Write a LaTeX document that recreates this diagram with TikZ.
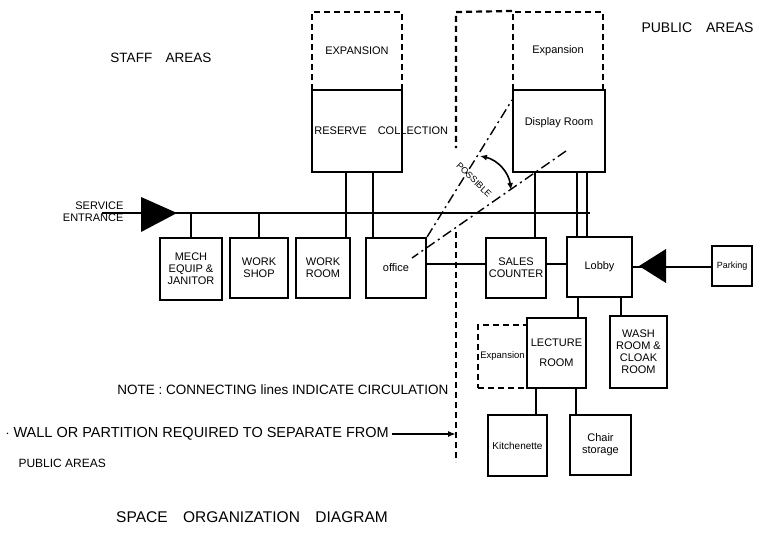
\documentclass[tikz,border=0pt]{standalone}
\usepackage{fontspec}
\setmainfont{Liberation Sans}
\usetikzlibrary{arrows.meta}

\begin{document}
\begin{tikzpicture}[x=1pt, y=-1pt,
    room/.style={draw, line width=2.2pt, rectangle, align=center, inner sep=1pt,
        font=\fontsize{11}{12}\selectfont},
    expbox/.style={draw, line width=2pt, dash pattern=on 6pt off 4pt, rectangle,
        inner sep=1pt, font=\fontsize{11}{12}\selectfont},
    link/.style={line width=1.6pt},
    wall/.style={line width=2.2pt, dash pattern=on 6pt off 4pt},
    sight/.style={line width=1.4pt, dash pattern=on 10pt off 4pt on 2pt off 4pt},
    lab/.style={font=\fontsize{13.5}{15}\selectfont}]
    \useasboundingbox (0,0) rectangle (779,541);

    % Zone di espansione (tratteggiate)
    \node[expbox, minimum width=90pt, minimum height=78pt] (expL) at (357,51) {EXPANSION};
    \node[expbox, minimum width=90pt, minimum height=78pt] (expR) at (558,51) {Expansion};
    \node[expbox, minimum width=49pt, minimum height=63pt,
        font=\fontsize{9.5}{10}\selectfont] (expC) at (502.5,356.5) {Expansion};

    % Locali
    \node[room, minimum width=90pt, minimum height=82pt,
        label={[font=\fontsize{11}{12}\selectfont, anchor=west]west:RESERVE\quad COLLECTION}] (reserve) at (357,131) {};
    \node[room, minimum width=92pt, minimum height=82pt] (display) at (559,131) {Display Room\\[6pt]};
    \node[room, minimum width=62pt, minimum height=62pt] (mech) at (191,269) {MECH\\EQUIP \&\\JANITOR};
    \node[room, minimum width=58pt, minimum height=60pt] (shop) at (259,268) {WORK\\SHOP};
    \node[room, minimum width=54pt, minimum height=60pt] (wroom) at (323,268) {WORK\\ROOM};
    \node[room, minimum width=60pt, minimum height=60pt] (office) at (396,268) {office};
    \node[room, minimum width=60pt, minimum height=60pt] (sales) at (516,268) {SALES\\COUNTER};
    \node[room, minimum width=65pt, minimum height=60pt] (lobby) at (599.5,267) {Lobby};
    \node[room, minimum width=40pt, minimum height=40pt,
        font=\fontsize{9}{10}\selectfont] (parking) at (732,266) {Parking};
    \node[room, minimum width=59pt, minimum height=70pt] (lecture) at (556.5,353) {LECTURE\\[8pt]ROOM};
    \node[room, minimum width=57pt, minimum height=72pt] (wash) at (638.5,352) {WASH\\ROOM \&\\CLOAK\\ROOM};
    \node[room, minimum width=59pt, minimum height=61pt,
        font=\fontsize{10}{11}\selectfont] (kitchen) at (517.5,445.5) {Kitchenette};
    \node[room, minimum width=61pt, minimum height=60pt] (chair) at (600.5,445) {Chair\\storage};

    % Corridoio di servizio
    \coordinate (se) at (102,213);
    \coordinate (me) at (590,213);
    \draw[link] (se) -- (me);
    \fill (141,197) -- (177,213) -- (141,232) -- cycle;
    \foreach \r in {mech, shop} {
        \draw[link] (\r.north) -- (\r.north |- me);
    }
    \foreach \dx/\r in {-11/wroom, 16/office} {
        \draw[link] ([xshift=\dx pt]reserve.south) -- ([xshift=\dx pt]reserve.south |- \r.north);
    }
    \foreach \dx/\r in {-24/sales, 18/lobby, 28/lobby} {
        \draw[link] ([xshift=\dx pt]display.south) -- ([xshift=\dx pt]display.south |- \r.north);
    }

    % Collegamenti pubblici
    \draw[link] ([yshift=4pt]office.east) -- ([yshift=4pt]office.east -| sales.west);
    \draw[link] ([yshift=4pt]sales.east) -- ([yshift=4pt]sales.east -| lobby.west);
    \draw[link] (lobby.east) -- (lobby.east -| parking.west);
    \fill (639,266) -- (666,249) -- (666,283) -- cycle;
    \foreach \dx/\r in {-21.5/lecture, 21.5/wash} {
        \draw[link] ([xshift=\dx pt]lobby.south) -- ([xshift=\dx pt]lobby.south |- \r.north);
    }
    \foreach \dx/\r in {-20.5/kitchen, 19.5/chair} {
        \draw[link] ([xshift=\dx pt]lecture.south) -- ([xshift=\dx pt]lecture.south |- \r.north);
    }

    % Parete divisoria
    \coordinate (w1) at (456,12);
    \coordinate (w2) at (456,148);
    \coordinate (w3) at (456,232);
    \coordinate (w4) at (456,462);
    \draw[wall] (expR.north west) -- (w1) -- (w2);
    \draw[wall] (w3) -- (w4);

    % Visuale ufficio - sala
    \coordinate (v1) at (512,100);
    \coordinate (v2) at (566,151);
    \coordinate (v3) at (412,258);
    \draw[sight] (office.north east) -- (v1);
    \draw[sight] (v2) -- (v3);
    \coordinate (a1) at (480,156);
    \coordinate (a2) at (511,190);
    \draw[link, {Latex[length=7pt,width=6pt]}-{Latex[length=7pt,width=6pt]}] (a1) to[bend left=35] (a2);
    \node[rotate=-44, inner sep=0pt, font=\fontsize{9}{10}\selectfont] (poss) at (474,180) {POSSIBLE};

    % Testi
    \node[lab] (staff) at (161,58) {STAFF\quad AREAS};
    \node[font=\fontsize{14}{15}\selectfont, anchor=west] (public) at (638,28) {PUBLIC\quad AREAS};
    \node[font=\fontsize{11}{12}\selectfont, align=right, anchor=east] (service) at (127,212) {SERVICE\\ENTRANCE};
    \node[lab, anchor=east] (note) at (452,390) {NOTE : CONNECTING lines INDICATE CIRCULATION};
    \node[font=\fontsize{14.5}{16}\selectfont, anchor=west] (wallnote) at (2,434) {$\cdot$ WALL OR PARTITION REQUIRED TO SEPARATE FROM};
    \draw[link, -{Latex[length=8pt,width=6pt]}] (wallnote.east) -- (wallnote.east -| w4);
    \node[font=\fontsize{12}{13}\selectfont, anchor=west] (pubnote) at (15,463) {PUBLIC AREAS};
    \node[font=\fontsize{15.5}{17}\selectfont] (title) at (252,517) {SPACE\quad ORGANIZATION\quad DIAGRAM};
\end{tikzpicture}
\end{document}
